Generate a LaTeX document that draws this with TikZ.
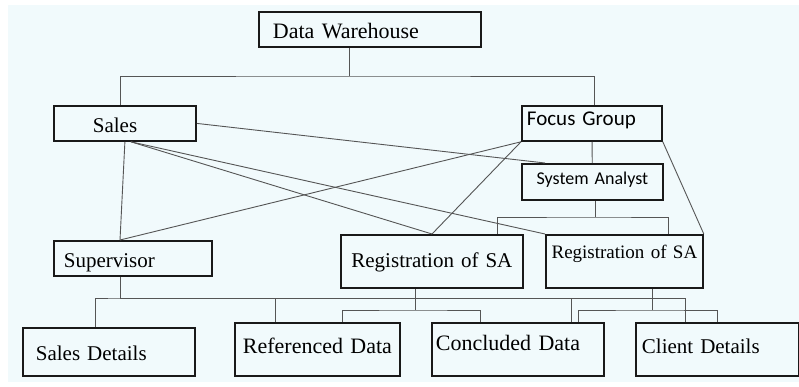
\documentclass[tikz,border=0pt]{standalone}
\usepackage{fontspec}
\setmainfont{Liberation Serif}
\newfontfamily\calibrifont{Carlito}
\usetikzlibrary{positioning,calc}
\definecolor{pagetint}{RGB}{241,250,252}
\definecolor{framecolor}{RGB}{25,25,25}
\definecolor{linkcolor}{RGB}{85,85,85}

\begin{document}
\begin{tikzpicture}[
    x=1pt, y=-1pt,
    box/.style={rectangle, draw=framecolor, line width=1.8pt, anchor=north west, inner ysep=0pt, align=left, font=\fontsize{21}{24}\selectfont},
    sansbox/.style={box, font=\calibrifont\fontsize{21}{24}\selectfont},
    link/.style={draw=linkcolor, line width=0.9pt}
]

% page
\fill[white] (0,0) rectangle (799,386);
\fill[pagetint] (8,5) rectangle (799,382);
\useasboundingbox (0,0) rectangle (799,386);

% top level
\node[box, font=\fontsize{22}{25}\selectfont, inner xsep=14pt, text width=194pt, text height=27pt, text depth=8pt] (dw) at (258,11) {Data Warehouse};
\node[box, inner xsep=39pt, text width=64pt, text height=27pt, text depth=8pt] (sales) at (53,105) {Sales};
\node[sansbox, inner xsep=5pt, text width=130pt, text height=20pt, text depth=15pt] (fg) at (521,105) {Focus Group};
\node[sansbox, font=\calibrifont\fontsize{18}{21}\selectfont, align=center, inner xsep=4pt, text width=133pt, text height=21pt, text depth=15pt] (sa) at (521,163) {System Analyst};

% middle level
\node[box, inner xsep=10pt, text width=138pt, text height=27pt, text depth=8pt] (sup) at (53,240) {Supervisor};
\node[box, align=center, inner xsep=3pt, text width=176pt, text height=33pt, text depth=20pt] (reg1) at (340,234) {Registration of SA};
\node[box, font=\fontsize{19}{22}\selectfont, align=center, inner xsep=3pt, text width=151pt, text height=24pt, text depth=29pt] (reg2) at (545,234) {Registration of SA};

% bottom level
\node[box, inner xsep=13pt, text width=146pt, text height=33pt, text depth=15pt] (sdet) at (22,327) {Sales Details};
\node[box, font=\fontsize{22}{25}\selectfont, align=center, inner xsep=3pt, text width=159pt, text height=31pt, text depth=22pt] (refd) at (234,322) {Referenced Data};
\node[box, font=\fontsize{22}{25}\selectfont, inner xsep=4pt, text width=164pt, text height=28pt, text depth=25pt] (concd) at (431,322) {Concluded Data};
\node[box, inner xsep=6pt, text width=151pt, text height=31pt, text depth=22pt] (cdet) at (635,322) {Client Details};

% bus points
\coordinate (topbus) at (349,76);
\coordinate (sabus) at (595,217);
\coordinate (supbus) at (120,298);
\coordinate (r1bus) at (415,310);
\coordinate (r2bus) at (652,310);
\coordinate (salesfoot) at ($(sales.south)+(6,0)$);

% tree lines
\draw[link] (dw.south -| topbus) -- (topbus);
\draw[link] (sales.north -| 120,0) |- (topbus) -| (fg.north -| 594,0);
\draw[link] (fg) -- (sa);
\draw[link] (sa.south -| sabus) -- (sabus);
\draw[link] (reg1.north -| 497,0) |- (sabus) -| (reg2.north -| 668,0);

% cross links
\draw[link] (sales.east) -- (sa.north -| 545,0);
\draw[link] (sales.south) -- (sup.north -| 120,0);
\draw[link] (salesfoot) -- (reg1.north -| 432,0);
\draw[link] (salesfoot) -- (reg2.north west);
\draw[link] (fg.south west) -- (sup.north -| 120,0);
\draw[link] (fg.south west) -- (reg1.north -| 432,0);
\draw[link] (fg.south east) -- (reg2.north east);

% bottom buses
\draw[link] (sup.south -| supbus) -- (supbus);
\draw[link] (sdet.north -| 95,0) |- (supbus) -| (cdet.north -| 685,0);
\draw[link] (refd.north -| 275,0) |- (supbus);
\draw[link] (concd.north -| 571,0) |- (supbus);
\draw[link] (reg1.south -| r1bus) -- (r1bus);
\draw[link] (refd.north -| 342,0) |- (r1bus) -| (concd.north -| 480,0);
\draw[link] (reg2.south -| r2bus) -- (r2bus);
\draw[link] (concd.north -| 578,0) |- (r2bus) -| (cdet.north -| 717,0);

\end{tikzpicture}
\end{document}
